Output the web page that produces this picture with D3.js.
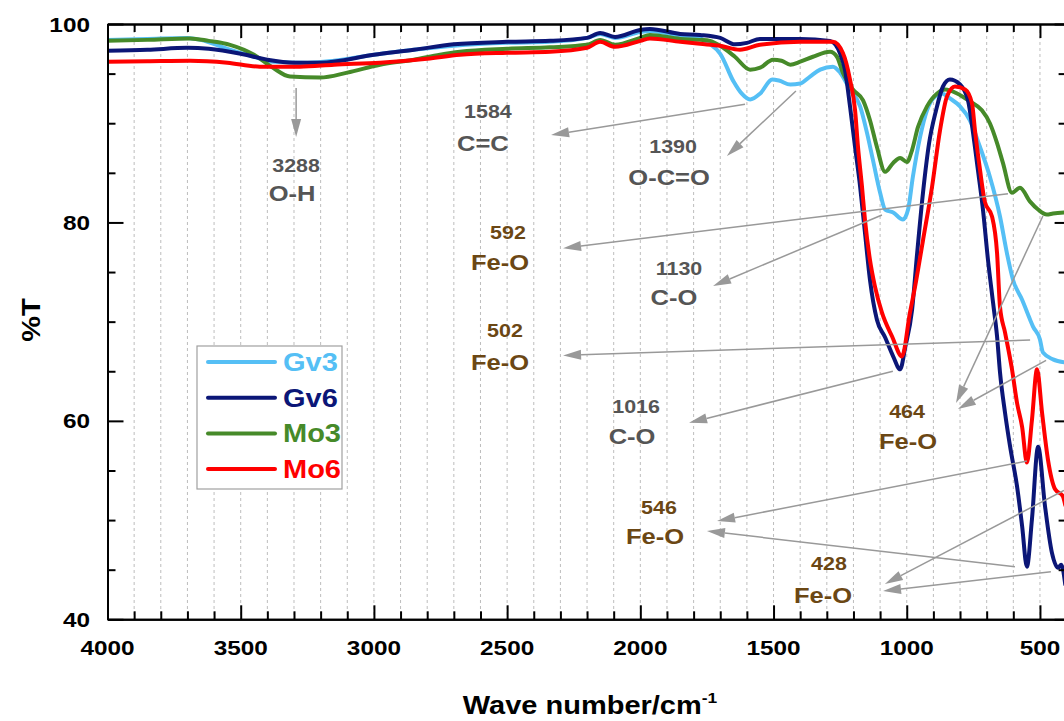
<!DOCTYPE html>
<meta charset="utf-8">
<style>
body { margin: 0; background: #fff; }
svg { font-family: "Liberation Sans", Arial, sans-serif; font-weight: bold; }
</style>
<body>
<script src="https://cdn.jsdelivr.net/npm/d3@7"></script>
<script>
// spectra: [wave number, %T]
var gv3 = [[4000,98.4],[3850,98.5],[3700,98.6],[3650,98.4],[3550,97.5],[3450,96.7],[3380,96.2],[3250,96.1],[3150,96.3],[3000,96.9],[2850,97.4],[2700,97.8],[2500,98.1],[2340,98.2],[2200,98.6],[2150,99.0],[2095,98.6],[2000,99.2],[1964,99.3],[1850,98.8],[1780,98.6],[1740,98.0],[1700,97.0],[1650,94.2],[1620,93.0],[1588,92.4],[1550,93.0],[1505,94.4],[1480,94.3],[1437,93.9],[1400,94.0],[1363,94.7],[1325,95.4],[1277,95.7],[1250,95.1],[1213,93.4],[1175,91.7],[1149,89.0],[1127,86.3],[1100,83.0],[1081,81.3],[1051,81.0],[1014,80.3],[995,81.3],[977,84.6],[950,88.6],[924,91.3],[901,92.5],[868,93.0],[838,92.5],[800,91.7],[763,90.3],[725,87.6],[688,84.6],[650,80.6],[624,76.9],[601,74.2],[567,72.2],[537,70.2],[526,69.5],[500,68.2],[489,66.9],[451,66.2],[405,65.9]];
var gv6 = [[4000,97.3],[3850,97.4],[3700,97.6],[3620,97.5],[3500,97.0],[3400,96.4],[3300,96.1],[3200,96.1],[3000,96.9],[2850,97.4],[2700,97.95],[2500,98.2],[2339,98.3],[2200,98.6],[2151,99.1],[2095,98.7],[2001,99.4],[1964,99.5],[1851,99.0],[1776,98.9],[1700,98.6],[1645,97.95],[1600,98.1],[1551,98.5],[1400,98.5],[1288,98.3],[1250,97.0],[1232,95.4],[1213,91.7],[1194,87.6],[1175,83.6],[1157,79.0],[1138,74.2],[1112,70.2],[1081,68.4],[1051,66.5],[1025,65.2],[1005,67.5],[980,71.2],[961,76.9],[939,83.0],[916,88.0],[890,91.3],[864,93.7],[838,94.4],[800,93.9],[770,92.3],[751,89.0],[733,85.3],[714,81.3],[695,76.2],[676,71.9],[661,68.5],[650,64.9],[631,60.8],[612,57.4],[586,53.4],[567,49.4],[549,45.3],[530,50.1],[507,57.4],[481,51.4],[455,46.7],[432,45.2],[420,45.5],[405,43.5]];
var mo3 = [[4000,98.3],[3850,98.4],[3690,98.55],[3620,98.3],[3540,97.9],[3450,96.9],[3380,95.6],[3315,94.7],[3202,94.6],[3100,95.1],[2977,95.9],[2850,96.4],[2752,96.9],[2677,97.2],[2500,97.5],[2339,97.65],[2200,97.9],[2151,98.4],[2095,97.9],[2000,98.6],[1964,98.9],[1850,98.5],[1776,98.4],[1738,98.3],[1700,97.8],[1645,96.7],[1588,95.4],[1550,95.6],[1502,96.4],[1470,96.3],[1437,95.9],[1400,96.2],[1352,96.7],[1288,97.2],[1262,96.7],[1240,95.1],[1202,93.4],[1164,92.3],[1138,90.3],[1112,87.6],[1081,85.1],[1051,86.0],[1025,86.5],[999,86.1],[980,87.3],[958,89.6],[924,91.7],[886,93.0],[856,93.4],[811,93.0],[763,92.2],[718,91.3],[688,90.0],[661,88.0],[639,86.0],[605,83.0],[575,83.5],[537,82.1],[507,81.3],[474,80.8],[451,80.9],[405,81.0]];
var mo6 = [[4000,96.2],[3850,96.25],[3690,96.3],[3550,96.1],[3428,95.7],[3278,95.7],[3150,95.9],[2977,96.1],[2800,96.5],[2677,96.9],[2500,97.1],[2339,97.2],[2200,97.6],[2151,98.2],[2095,97.7],[2000,98.3],[1964,98.55],[1850,98.2],[1776,98.0],[1700,97.8],[1626,97.4],[1551,97.9],[1400,98.2],[1277,98.2],[1240,97.1],[1213,94.4],[1194,91.3],[1183,87.6],[1168,83.6],[1157,80.3],[1138,76.2],[1119,73.5],[1093,70.9],[1055,68.5],[1018,66.5],[988,70.9],[969,73.5],[939,78.2],[905,83.6],[875,89.3],[849,92.7],[819,93.7],[781,93.4],[755,92.0],[744,89.3],[725,85.3],[707,82.1],[680,80.6],[661,76.9],[650,71.5],[631,68.9],[605,65.2],[586,61.8],[567,59.4],[549,55.8],[530,60.1],[511,65.2],[492,60.8],[470,56.1],[443,53.1],[414,52.4],[405,51.5]];

var names = ["Gv3", "Gv6", "Mo3", "Mo6"];
var colors = ["#55bff5", "#0b1677", "#468a29", "#ff0000"];
var seriesData = [gv3, gv6, mo3, mo6];
var drawOrder = [0, 2, 1, 3];

var xMajor = [4000, 3500, 3000, 2500, 2000, 1500, 1000, 500];
var yMajor = [40, 60, 80, 100];

// peak labels: number, group, label anchor [wn, %T] for number and group text
var peakNum = ["3288", "1584", "1390", "592", "1130", "502", "1016", "464", "546", "428"];
var peakGroup = ["O-H", "C=C", "O-C=O", "Fe-O", "C-O", "Fe-O", "C-O", "Fe-O", "Fe-O", "Fe-O"];
var peakNumAt = [[3292,85.8],[2572,91.2],[1877,87.7],[2497,79.0],[1855,75.4],[2508,69.1],[2016,61.5],[999,61.0],[1930,51.3],[1292,45.6]];
var peakGroupAt = [[3307,83.0],[2591,88.0],[1892,84.6],[2527,76.0],[1874,72.5],[2527,65.9],[2031,58.5],[995,58.0],[1945,48.4],[1314,42.45]];
var isFe = [false, false, false, true, false, true, false, true, true, true];
// arrows: [from wn, from T, to wn, to T]
var arrows = [[3292,93.55,3292,88.6],[1607,91.9,2335,88.8],[1416,93.25,1675,86.7],[620,82.9,2290,77.4],[1093,80.75,1727,73.6],[537,68.15,2290,66.6],[1052,65.0,1817,59.8],[489,80.65,815,61.8],[477,66.1,808,61.2],[549,55.95,1712,49.9],[594,45.3,1750,48.9],[410,53.0,1082,43.56],[459,44.8,1089,42.85]];

var W = 1064, H = 721;
var svg = d3.select("body").append("svg").attr("width", W).attr("height", H);
var x = d3.scaleLinear().domain([4000, 400]).range([107.5, 1066.6]);
var y = d3.scaleLinear().domain([40, 100]).range([619.3, 24]);
var SX = 1.16;

function label(g, px, py, str, size, color, anchor) {
  return g.append("text")
    .attr("transform", "translate(" + px + "," + py + ") scale(" + SX + ",1)")
    .attr("text-anchor", anchor || "middle")
    .attr("font-size", size)
    .attr("fill", color)
    .text(str);
}

// grid
var gridVals = d3.range(3900, 400, -100);
svg.append("g").selectAll("line").data(gridVals).enter().append("line")
  .attr("x1", d => x(d)).attr("x2", d => x(d))
  .attr("y1", y(100)).attr("y2", y(40))
  .attr("stroke", "#bdbdbd").attr("stroke-width", 1).attr("stroke-dasharray", "3,3");

// spectra
var clip = svg.append("clipPath").attr("id", "clip").append("rect")
  .attr("x", x(4000)).attr("y", y(100)).attr("width", x(400) - x(4000)).attr("height", y(40) - y(100));
var line = d3.line().x(d => x(d[0])).y(d => y(d[1])).curve(d3.curveMonotoneX);
var lines = svg.append("g").attr("clip-path", "url(#clip)");
drawOrder.forEach(function(i) {
  lines.append("path").datum(seriesData[i])
    .attr("d", line).attr("fill", "none")
    .attr("stroke", colors[i]).attr("stroke-width", 4)
    .attr("stroke-linejoin", "round").attr("stroke-linecap", "round");
});

// axes
var minorX = d3.range(4000, 399, -100).filter(d => d % 500 !== 0);
var minorY = d3.range(40, 101, 5).filter(d => d % 20 !== 0);
function styleAxis(g) {
  g.selectAll("path, line").attr("stroke", "#000").attr("stroke-width", 2);
  g.selectAll("text").remove();
}
svg.append("g").attr("transform", "translate(0," + y(40) + ")")
  .call(d3.axisBottom(x).tickValues(xMajor).tickSize(-14).tickSizeOuter(0)).call(styleAxis);
svg.append("g").attr("transform", "translate(0," + y(40) + ")")
  .call(d3.axisBottom(x).tickValues(minorX).tickSize(-8).tickSizeOuter(0)).call(styleAxis);
svg.append("g").attr("transform", "translate(0," + y(100) + ")")
  .call(d3.axisTop(x).tickValues(xMajor).tickSize(-14).tickSizeOuter(0)).call(styleAxis);
svg.append("g").attr("transform", "translate(0," + y(100) + ")")
  .call(d3.axisTop(x).tickValues(minorX).tickSize(-8).tickSizeOuter(0)).call(styleAxis);
svg.append("g").attr("transform", "translate(" + x(4000) + ",0)")
  .call(d3.axisLeft(y).tickValues(yMajor).tickSize(-16).tickSizeOuter(0)).call(styleAxis);
svg.append("g").attr("transform", "translate(" + x(4000) + ",0)")
  .call(d3.axisLeft(y).tickValues(minorY).tickSize(-8).tickSizeOuter(0)).call(styleAxis);
svg.append("g").attr("transform", "translate(" + x(400) + ",0)")
  .call(d3.axisRight(y).tickValues(yMajor).tickSize(-12).tickSizeOuter(0)).call(styleAxis);
svg.append("g").attr("transform", "translate(" + x(400) + ",0)")
  .call(d3.axisRight(y).tickValues(minorY).tickSize(-8).tickSizeOuter(0)).call(styleAxis);

var labels = svg.append("g");
xMajor.forEach(function(v) { label(labels, x(v), 655, v, 21, "#000"); });
yMajor.forEach(function(v) { label(labels, 90, y(v) + 7.5, v, 21, "#000", "end"); });

var xt = labels.append("text")
  .attr("transform", "translate(590,714) scale(" + SX + ",1)")
  .attr("text-anchor", "middle").attr("font-size", 25).attr("fill", "#000");
xt.append("tspan").text("Wave number/cm");
xt.append("tspan").attr("dy", -11).attr("font-size", 15).text("-1");

labels.append("text")
  .attr("transform", "translate(40,320) rotate(-90) scale(" + SX + ",1)")
  .attr("text-anchor", "middle").attr("font-size", 25).attr("fill", "#000").text("%T");

// annotations
var ann = svg.append("g");
arrows.forEach(function(a) {
  var x1 = x(a[0]), y1 = y(a[1]), x2 = x(a[2]), y2 = y(a[3]);
  var dx = x2 - x1, dy = y2 - y1, len = Math.sqrt(dx * dx + dy * dy);
  var ux = dx / len, uy = dy / len, hl = 18, hw = 5;
  var bx = x2 - ux * hl, by = y2 - uy * hl;
  ann.append("line").attr("x1", x1).attr("y1", y1).attr("x2", bx).attr("y2", by)
    .attr("stroke", "#999").attr("stroke-width", 1.5);
  ann.append("path")
    .attr("d", "M" + x2 + "," + y2 + "L" + (bx - uy * hw) + "," + (by + ux * hw) + "L" + (bx + uy * hw) + "," + (by - ux * hw) + "Z")
    .attr("fill", "#999");
});
peakNum.forEach(function(t, i) {
  var c = isFe[i] ? "#6b4714" : "#555555";
  label(ann, x(peakNumAt[i][0]), y(peakNumAt[i][1]) + 6.7, t, 18.5, c);
  label(ann, x(peakGroupAt[i][0]), y(peakGroupAt[i][1]) + 7.9, peakGroup[i], 22, c);
});

// legend
var leg = svg.append("g");
leg.append("rect").attr("x", 197).attr("y", 346).attr("width", 145).attr("height", 143)
  .attr("fill", "#fff").attr("stroke", "#a0a0a0").attr("stroke-width", 1.2);
names.forEach(function(n, i) {
  var ly = 362 + i * 35.7;
  leg.append("line").attr("x1", 208).attr("x2", 275).attr("y1", ly).attr("y2", ly)
    .attr("stroke", colors[i]).attr("stroke-width", 4).attr("stroke-linecap", "round");
  label(leg, 283, ly + 9, n, 25, colors[i], "start");
});
</script>
</body>
